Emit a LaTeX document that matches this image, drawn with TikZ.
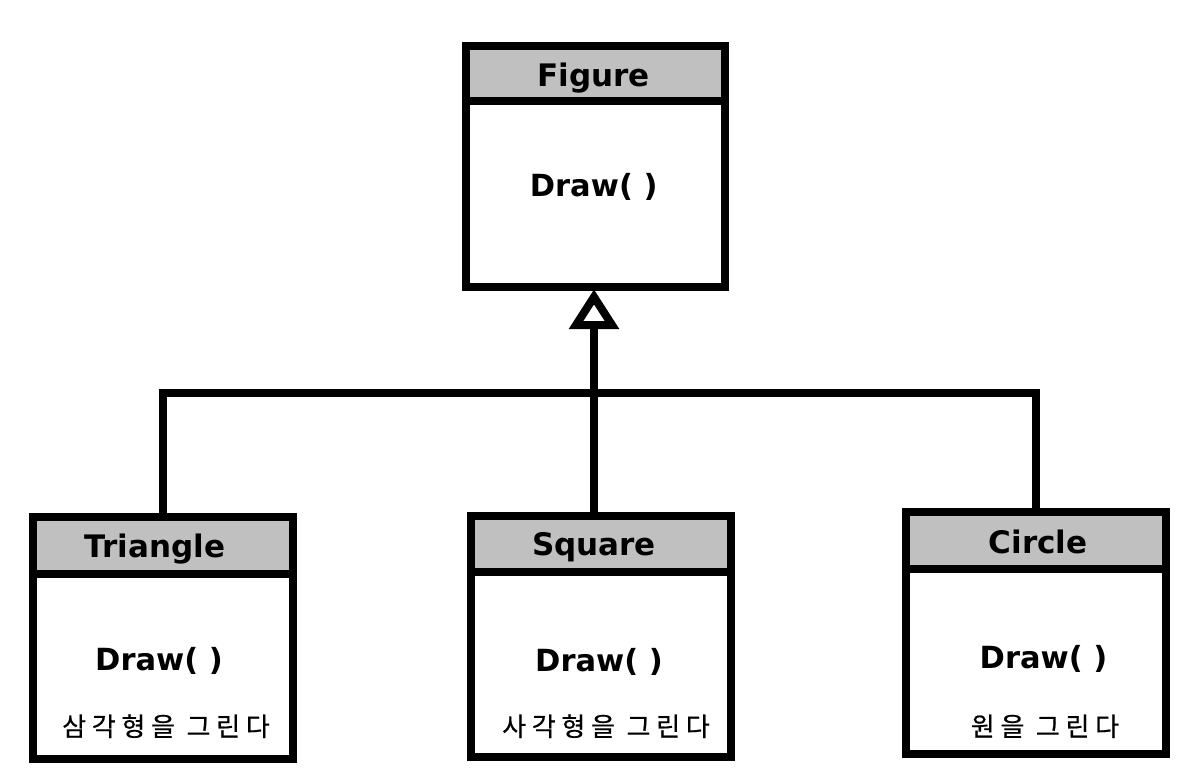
\documentclass[tikz,border=0pt]{standalone}
\usepackage{fontspec}
\newfontfamily\latfont{DejaVu Sans}
\newfontfamily\korfont{Noto Sans CJK KR}[LetterSpace=22,FakeBold=0.6]
\definecolor{hdrgray}{RGB}{192,192,192}
\tikzset{
  boxline/.style={draw=black, line width=8pt, line join=miter},
  hdr/.style={boxline, fill=hdrgray, inner sep=0pt, minimum width=260pt},
  bodybox/.style={boxline, fill=white, inner sep=0pt, minimum width=260pt},
  conn/.style={draw=black, line width=8pt, line join=miter},
  titletext/.style={anchor=base, inner sep=0pt, font=\latfont\bfseries\fontsize{31}{31}\selectfont},
  methtext/.style={anchor=base, inner sep=0pt, font=\latfont\bfseries\fontsize{30.5}{31}\selectfont},
  notetext/.style={anchor=base, inner sep=0pt, font=\korfont\fontsize{26}{26}\selectfont}
}
\begin{document}
\begin{tikzpicture}[x=1pt,y=-1pt]
\fill[white] (0,0) rectangle (1192,778);
\useasboundingbox (0,0) rectangle (1192,778);

% Figure
\node[hdr, minimum width=259pt, minimum height=55.5pt] (figh) at (595.5,73.75) {};
\node[bodybox, minimum width=259pt, minimum height=185.5pt] (fig) at (595.5,194.25) {};
% Triangle
\node[hdr, minimum height=57pt] (trih) at (163,545.5) {};
\node[bodybox, minimum height=185pt] (tri) at (163,666.5) {};
% Square
\node[hdr, minimum height=56pt] (sqh) at (601,544) {};
\node[bodybox, minimum height=185pt] (sq) at (601,664.5) {};
% Circle
\node[hdr, minimum height=57pt] (cirh) at (1036,540.5) {};
\node[bodybox, minimum height=185pt] (cir) at (1036,661.5) {};

% texts
\node[titletext] (figt) at (593.5,86.5) {Figure};
\node[methtext] (figm) at (593.7,197) {Draw( )};
\node[titletext] (trit) at (155,557) {Triangle};
\node[methtext] (trim) at (159,670) {Draw( )};
\node[notetext] (trin) at (166,736) {삼각형을 그린다};
\node[titletext] (sqt) at (594,555) {Square};
\node[methtext] (sqm) at (599,671) {Draw( )};
\node[notetext] (sqn) at (606,736) {사각형을 그린다};
\node[titletext] (cirt) at (1038,553) {Circle};
\node[methtext] (cirm) at (1043.5,668) {Draw( )};
\node[notetext] (cirn) at (1045,736) {원을 그린다};

% connectors
\coordinate (hj) at (594,393);
\coordinate (tb) at (594,325);
\coordinate (tt) at (594,297);
\draw[conn] (trih.north) |- (hj) -| (cirh.north);
\draw[conn] (tb |- sqh.north) -- (tb);
\draw[conn, fill=white] (tt) -- ([xshift=-18pt]tb) -- ([xshift=18pt]tb) -- cycle;
\end{tikzpicture}
\end{document}
